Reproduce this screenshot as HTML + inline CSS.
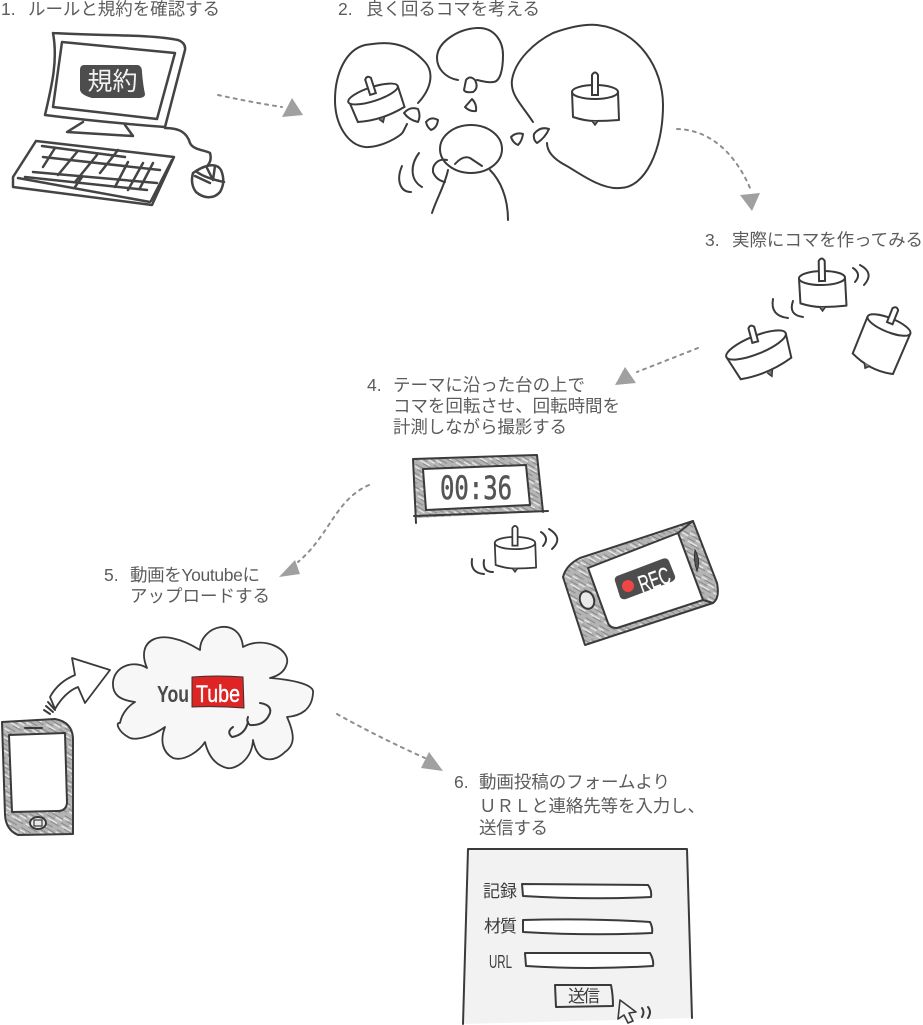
<!DOCTYPE html>
<html>
<head>
<meta charset="utf-8">
<style>
html,body{margin:0;padding:0;background:#fff;}
svg{display:block;}
.t{font-family:"Liberation Sans","Noto Sans CJK JP",sans-serif;font-size:17.5px;fill:#5c5c5c;}
.s{fill:none;stroke:#3a3a3a;stroke-width:2;stroke-linecap:round;stroke-linejoin:round;}
.k{stroke-width:2.5;stroke:#444;}
.d{fill:none;stroke:#8e8e8e;stroke-width:2;stroke-dasharray:3 5;stroke-linecap:round;}
.a{fill:#a0a0a0;stroke:none;}
.f{font-family:"Liberation Sans","Noto Sans CJK JP",sans-serif;font-size:17px;fill:#3c3c3c;}
</style>
</head>
<body>
<svg width="923" height="1025" viewBox="0 0 923 1025" xmlns="http://www.w3.org/2000/svg">
<defs>
<pattern id="h" width="16" height="16" patternUnits="userSpaceOnUse" patternTransform="rotate(30)">
<rect width="16" height="16" fill="#b4b4b4"/>
<path d="M0,2H11M4,6H16M0,10H9M6,14H16" stroke="#888" stroke-width="1"/>
<path d="M0,4.500H6M9,8H16M2,12.500H13" stroke="#ececec" stroke-width="1.2"/>
</pattern>
<g id="top">
<path d="M-23,0 L-22,25 Q-10,29 0,29 Q12,29 24,28 L23,0" fill="#fff" stroke="#3a3a3a" stroke-width="2" stroke-linejoin="round"/>
<ellipse cx="0" cy="0" rx="23" ry="7" fill="#fff" stroke="#3a3a3a" stroke-width="2"/>
<path d="M-3,3 V-17 Q0,-22 3,-17 V3 Z" fill="#fff" stroke="#3a3a3a" stroke-width="2"/>
<path d="M-3,29 L0,33 L3,29" fill="#777" stroke="#3a3a3a" stroke-width="1.5"/>
</g>
</defs>

<!-- labels -->
<text class="t" x="1" y="15">1.</text><text class="t" x="28" y="15" textLength="192">ルールと規約を確認する</text>
<text class="t" x="338" y="15">2.</text><text class="t" x="366" y="15" textLength="174">良く回るコマを考える</text>
<text class="t" x="705" y="246">3.</text><text class="t" x="732" y="246" textLength="191">実際にコマを作ってみる</text>
<text class="t" x="367" y="391">4.</text>
<text class="t" x="393" y="391" textLength="192">テーマに沿った台の上で</text>
<text class="t" x="393" y="412" textLength="227">コマを回転させ、回転時間を</text>
<text class="t" x="393" y="433" textLength="174">計測しながら撮影する</text>
<text class="t" x="104" y="581">5.</text>
<text class="t" x="130" y="581" textLength="130">動画をYoutubeに</text>
<text class="t" x="130" y="602" textLength="140">アップロードする</text>
<text class="t" x="454" y="788">6.</text>
<text class="t" x="479" y="788" textLength="191">動画投稿のフォームより</text>
<text class="t" x="479" y="812" textLength="226">ＵＲＬと連絡先等を入力し、</text>
<text class="t" x="479" y="834" textLength="69">送信する</text>

<!-- dashed arrows -->
<path class="d" d="M218,95 Q250,102 282,107"/>
<path class="a" d="M292,98 L303,115 L282,117 Z"/>
<path class="d" d="M677,129 C715,130 738,160 750,188"/>
<path class="a" d="M740,195 L760,193 L752,211 Z"/>
<path class="d" d="M698,348 L637,372"/>
<path class="a" d="M625,367 L636,383 L615,385 Z"/>
<path class="d" d="M369,485 C335,500 330,535 298,562"/>
<path class="a" d="M295,560 L300,574 L279,577 Z"/>
<path class="d" d="M337,714 Q380,738 425,758"/>
<path class="a" d="M429,752 L443,771 L421,768 Z"/>

<!-- step 1: computer -->
<path class="s k" d="M53,33 C100,36 150,34 178,40 Q186,43 185,50 L165,127 Q100,122 45,115 C52,85 58,60 53,33"/>
<path class="s k" d="M62,42 L175,53 L157,119 L53,107 Z"/>
<path d="M84,65 L138,65 Q142,66 142,72 Q143,85 145,94 Q145,98 138,98 L92,98 Q81,95 80,90 L80,70 Q80,65 84,65 Z" fill="#4d4d4d"/>
<text x="112.500" y="90" text-anchor="middle" font-family="'Liberation Sans','Noto Sans CJK JP',sans-serif" font-size="25" fill="#f2f2f2">規約</text>
<path class="s k" d="M83,122 L67,132 L133,136 L125,125"/>
<path class="s k" d="M165,128 C180,128 187,133 190,143 C193,150 205,150 210,153 Q212,160 208,165"/>
<path class="s k" d="M193,173 C200,168 215,160 221,170 Q226,182 220,192 C213,200 203,198 196,192 Q190,184 193,173 Z"/>
<path class="s k" d="M207,168 L213,180 L215,166 M197,172 Q205,178 224,182 M195,176 L210,183"/>
<path class="s k" d="M36,141 L174,157 L152,205 L13,187 L13,177 L36,141"/>
<path class="s k" d="M18,178 L150,202 M172,160 L151,201"/>
<path class="s k" d="M42,146 L125,157 M43,157 L160,170 M33,172 L157,183 M25,177 L147,190"/>
<path class="s k" d="M55,148 L43,167 M77,152 L58,175 M97,155 L75,182 M118,150 L100,173 M128,162 L115,187 M143,163 L128,190 M153,163 L140,188 M82,177 L75,187"/>

<!-- step 2 -->
<path class="s" d="M418,103 C432,88 434,72 425,62 C405,40 385,42 365,45 C345,50 335,75 335,100 C335,125 348,145 365,147 C380,148 400,137 403,132 L407,124"/>
<path class="s" d="M458,80 C445,78 437,68 437,58 C437,42 458,29 477,28 C495,27 503,42 503,55 C503,70 500,82 493,82 C488,83 482,81 477,80"/>
<path class="s" d="M533,122 C522,105 510,95 512,80 C515,60 535,42 553,33 C570,27 585,24 597,25 C640,30 663,70 663,105 C663,150 645,188 620,188 C600,190 575,170 565,165 C552,158 547,150 547,143"/>
<path class="s" d="M404,113 Q410,106 418,109 Q421,116 418,122 Q409,120 404,113 Z"/>
<path class="s" d="M426,122 Q431,116 438,120 Q437,128 431,130 Q427,127 426,122 Z"/>
<path class="s" d="M465,107 L472,99 Q477,104 476,111 Q470,112 465,107 Z"/>
<path class="s" d="M466,80 Q470,75 475,80 Q479,88 473,92 Q465,93 464,90 Z"/>
<path class="s" d="M511,137 Q516,132 523,134 Q522,141 518,145 Q513,143 511,137 Z"/>
<path class="s" d="M534,134 Q540,126 549,129 Q545,138 537,143 Q533,140 534,134 Z"/>
<ellipse class="s" cx="471" cy="149" rx="31" ry="24"/>
<path class="s" d="M455,164 Q463,155 470,158 L482,166"/>
<path class="s" d="M447,160 C438,158 432,165 433,172 Q436,180 445,182"/>
<path class="s" d="M448,170 C445,185 436,200 432,213"/>
<path class="s" d="M490,170 C500,180 508,197 508,220"/>
<path class="s" d="M419,153 C410,165 410,180 422,187"/>
<path class="s" d="M402,166 C396,180 400,192 411,192"/>
<g transform="translate(373,94) rotate(-18)">
<path d="M-25,0 L-23,22 Q0,28 26,22 L26,0" fill="#fff" stroke="#3a3a3a" stroke-width="2"/>
<ellipse rx="26" ry="7" fill="#fff" stroke="#3a3a3a" stroke-width="2"/>
<path d="M-3,0 V-16 Q0,-20 3,-16 V0 Z" fill="#fff" stroke="#3a3a3a" stroke-width="2"/>
<path d="M-2,26 L1,30 L4,25" fill="#777" stroke="#3a3a3a" stroke-width="1.5"/>
</g>
<use href="#top" transform="translate(595,92)"/>

<!-- step 3 -->
<use href="#top" transform="translate(822,278) rotate(-1)"/>
<path class="s" d="M853,268 Q862,274 855,282 M860,265 Q875,273 864,285"/>
<path class="s" d="M793,301 Q788,315 803,317 M773,299 Q770,316 788,318"/>
<g transform="translate(756,345) rotate(-22)">
<path d="M-32,0 L-27,26 Q0,32 28,25 L32,0" fill="#fff" stroke="#3a3a3a" stroke-width="2"/>
<ellipse rx="32" ry="9" fill="#fff" stroke="#3a3a3a" stroke-width="2"/>
<path d="M-3,-3 V-18 Q0,-22 3,-18 V-3 Z" fill="#fff" stroke="#3a3a3a" stroke-width="2" transform="rotate(7)"/>
<path d="M0,30 L3,35 L6,29" fill="#777" stroke="#3a3a3a" stroke-width="1.5"/>
</g>
<g transform="translate(889,325) rotate(22)">
<path d="M-23,0 L-23,40 Q0,50 22,44 L23,0" fill="#fff" stroke="#3a3a3a" stroke-width="2"/>
<ellipse rx="23" ry="7" fill="#fff" stroke="#3a3a3a" stroke-width="2"/>
<path d="M-3,-2 V-17 Q0,-21 3,-17 V-2 Z" fill="#fff" stroke="#3a3a3a" stroke-width="2"/>
<path d="M-9,44 L-6,49 L-2,45" fill="#777" stroke="#3a3a3a" stroke-width="1.5"/>
</g>

<!-- step 4 clock -->
<path d="M413,459 L537,455 L543,512 L415,518 Z" fill="url(#h)"/>
<path class="s" stroke-width="2.5" d="M413,459 L537,455 L543,512 M548,511 L414,516 M413,459 L416,523"/>
<path class="s" style="fill:#fff" d="M423,469 L526,465 L530,505 L426,510 Z"/>
<text x="476" y="499" text-anchor="middle" font-family="'DejaVu Sans Mono','Liberation Mono',monospace" font-size="32" fill="#555" stroke="#555" stroke-width=".6" textLength="72" lengthAdjust="spacingAndGlyphs">00:36</text>

<use href="#top" transform="translate(515,543) scale(.88)"/>
<path class="s" d="M541,532 Q550,538 543,546 M549,529 Q564,538 552,549"/>
<path class="s" d="M484,560 Q482,572 493,572 M472,559 Q470,573 484,574"/>

<!-- landscape phone -->
<path d="M693,521 L717,583 Q720,598 713,603 L585,645 L563,577 Q566,565 573,562 Z" fill="url(#h)"/>
<path class="s" d="M693,521 L717,583 Q720,598 713,603 L585,645 L563,577 Q566,565 580,558 Q635,540 693,521"/>
<path class="s" style="fill:#fff" d="M678,533 L703,600 L617,628 Q610,628 608,623 L588,568 Z"/>
<path class="s" d="M678,533 L693,521 M703,600 L713,603"/>
<path d="M695,550 Q701,560 697,571 Q693,560 695,550 Z" fill="#555" stroke="#333"/>
<ellipse class="s" style="fill:#e8e8e8" cx="587" cy="600" rx="7" ry="9" transform="rotate(-20 587 600)"/>
<path d="M617,576 L662,559 Q667,557 669,561 L675,576 Q676,580 671,582 L626,599 Q622,600 620,597 L615,581 Q614,578 617,576 Z" fill="#4d4d4d"/>
<circle cx="628" cy="586" r="6" fill="#f04545"/>
<text x="654" y="588" text-anchor="middle" transform="rotate(-20 654 579)" font-family="'Liberation Sans',sans-serif" font-size="24" fill="#fff" stroke="#fff" stroke-width=".3" textLength="32" lengthAdjust="spacingAndGlyphs">REC</text>

<!-- step 5 cloud -->
<path d="M113,682 C115,665 135,660 147,668 C135,640 160,625 200,650 C200,625 240,615 243,647 C265,635 290,650 287,663 C285,672 278,676 270,678 C295,680 315,685 313,693 C312,710 300,716 287,717 C295,735 295,745 285,752 C275,762 258,765 253,740 C252,760 235,770 227,768 C215,765 208,755 205,742 C200,750 185,762 173,758 C162,752 160,740 165,727 C150,738 135,740 130,738 C118,732 115,722 120,723 C122,712 130,705 135,702 C120,700 112,695 113,682 Z" fill="#f7f7f7" stroke="#3a3a3a" stroke-width="1.8" stroke-linejoin="round"/>
<path class="s" stroke-width="1.5" d="M260,703 Q272,705 270,713 Q265,726 250,725 Q246,722 248,717 M248,722 Q245,735 232,737 Q226,732 233,727"/>
<text x="157" y="702" font-family="'Liberation Sans',sans-serif" font-size="23" font-weight="bold" fill="#4a4a4a" textLength="32" lengthAdjust="spacingAndGlyphs">You</text>
<path d="M192,677 Q218,675 243,677 L244,708 Q218,706 192,707 Z" fill="#df2424" stroke="#333"/>
<text x="196" y="702" font-family="'Liberation Sans',sans-serif" font-size="24" fill="#fff" stroke="#fff" stroke-width=".4" textLength="44" lengthAdjust="spacingAndGlyphs">Tube</text>
<path d="M55,709 L50,697 Q58,682 75,675 L72,658 L110,670 L85,703 L78,687 Q65,692 55,709 Z" fill="#fff" stroke="#3a3a3a" stroke-width="1.8" stroke-linejoin="round"/>
<path class="s" stroke-width="1.2" d="M48,702 L55,710 M46,706 L53,712 M44,710 L50,714"/>

<!-- vertical phone -->
<path d="M2,722 L55,719 Q72,722 73,738 L73,834 L18,835 Q6,830 5,815 Z" fill="url(#h)"/>
<path class="s" d="M2,722 L55,719 Q72,722 73,738 L73,834 L18,835 Q6,830 5,815 L2,722"/>
<path class="s" style="fill:#fff" d="M9,735 L65,733 L67,803 Q66,811 58,811 L12,812 Z"/>
<path class="s" d="M25,728 L42,728"/>
<ellipse class="s" style="fill:#e8e8e8" cx="38" cy="823" rx="8" ry="6"/>
<rect x="34" y="820" width="8" height="6" fill="none" stroke="#3a3a3a" stroke-width="1.2"/>

<!-- step 6 form -->
<path d="M468,849 L687,849 L692,1018 L463,1024 Z" fill="#f2f2f2"/>
<path class="s" d="M463,1024 L468,849 L687,849 L692,1018"/>
<text class="f" x="483" y="897" textLength="34">記録</text>
<path class="s" style="fill:#fff" d="M522,884 L648,885 Q652,890 651,897 Q590,900 523,896 Z"/>
<text class="f" x="484" y="932" textLength="33">材質</text>
<path class="s" style="fill:#fff" d="M523,920 Q590,918 650,922 Q653,928 652,933 Q590,936 523,932 Z"/>
<text class="f" x="489" y="968" font-size="18" style="font-size:18px" textLength="23" lengthAdjust="spacingAndGlyphs">URL</text>
<path class="s" style="fill:#fff" d="M525,953 L650,953 Q654,960 653,966 Q590,970 526,966 Z"/>
<path class="s" d="M555,985 L611,985 Q613,995 613,1006 L556,1007 Z"/>
<text class="f" x="568" y="1002" textLength="32">送信</text>
<path d="M620,1000 L636,1012 L629,1013 L633,1021 L628,1023 L624,1015 L618,1019 Z" fill="#f6f6f6" stroke="#3a3a3a" stroke-width="1.6" stroke-linejoin="round"/>
<path class="s" stroke-width="1.4" d="M642,1008 Q645,1012 642,1017 M648,1007 Q652,1012 648,1018"/>
</svg>
</body>
</html>
